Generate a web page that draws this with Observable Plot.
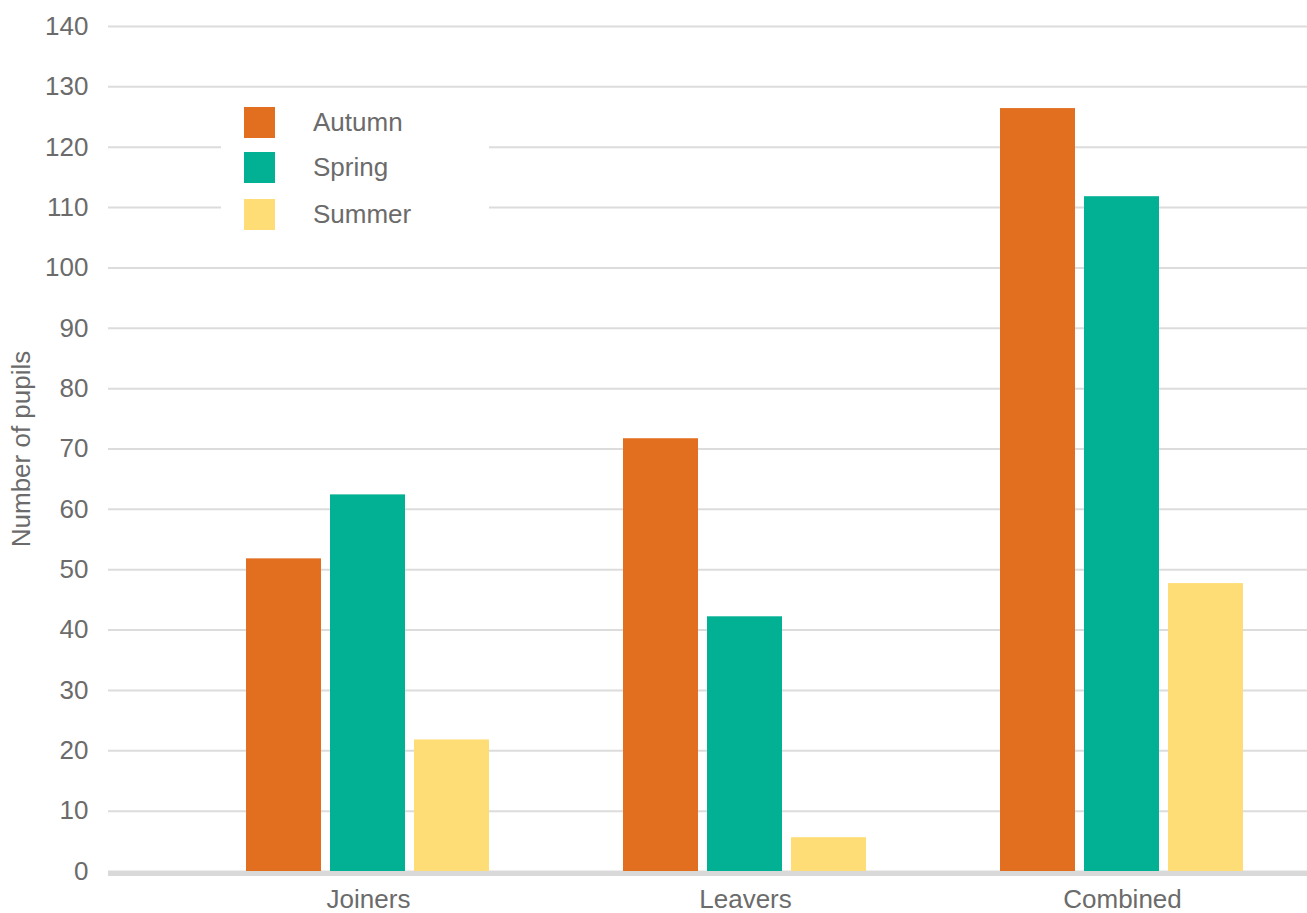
<!DOCTYPE html>
<html><head><meta charset="utf-8">
<script src="https://cdn.jsdelivr.net/npm/d3@7"></script>
<script src="https://cdn.jsdelivr.net/npm/@observablehq/plot@0.6"></script>
<style>
body{margin:0;background:#fff;font-family:"Liberation Sans",Arial,sans-serif;}
#chart{position:relative;width:1307px;height:913px;overflow:hidden;}
#chart svg{position:absolute;left:0;top:0;}
#legend{position:absolute;left:221px;top:96px;width:268px;height:150px;background:#fff;}
.item{position:absolute;left:23px;height:31px;display:flex;align-items:center;font-size:26px;color:#6b6b6b;}
.sw{width:31px;height:31px;margin-right:38px;flex:none;}
</style>
</head><body>
<div id="chart"></div>
<script>
const groups = ["Joiners", "Leavers", "Combined"];
const seasons = ["Autumn", "Spring", "Summer"];
const autumn = [51.8, 71.7, 126.4];
const spring = [62.4, 42.2, 111.8];
const summer = [21.8, 5.6, 47.7];
const colors = ["#e26e1f", "#02b193", "#fedd76"];
const yTicks = [0, 10, 20, 30, 40, 50, 60, 70, 80, 90, 100, 110, 120, 130, 140];
const yLabel = "Number of pupils";

const series = [autumn, spring, summer];
const rows = [];
groups.forEach((g, i) => seasons.forEach((s, j) => rows.push({group: g, season: s, value: series[j][i]})));

const W = 1307, H = 913;
const common = {
  width: W, height: H, marginLeft: 108, marginRight: 0, marginTop: 26, marginBottom: 42,
  style: {fontFamily: '"Liberation Sans", Arial, sans-serif', fontSize: "26px", color: "#6b6b6b", background: "transparent", overflow: "visible"}
};

const back = Plot.plot({
  ...common,
  y: {domain: [0, 140]},
  marks: [
    Plot.gridY(yTicks, {stroke: "#dcdcdc", strokeOpacity: 1, strokeWidth: 2}),
    Plot.ruleY([0], {stroke: "#d9d9d9", strokeWidth: 5, dy: 2}),
    Plot.axisY(yTicks, {tickSize: 0, tickPadding: 20, label: yLabel, labelAnchor: "center", labelOffset: 97, labelArrow: "none", fill: "#6b6b6b"})
  ]
});

const front = Plot.plot({
  ...common,
  fx: {domain: groups, paddingInner: 0.3254, paddingOuter: 0.2487, align: 0.7, label: null, tickSize: 0, tickPadding: 18},
  x: {domain: seasons, paddingInner: 0.1059, paddingOuter: 0.053, axis: null},
  y: {domain: [0, 140], axis: null},
  color: {domain: seasons, range: colors},
  marks: [
    Plot.barY(rows, {fx: "group", x: "season", y: "value", fill: "season"})
  ]
});

const chart = document.getElementById("chart");
chart.appendChild(back);
chart.appendChild(front);

const legend = document.createElement("div");
legend.id = "legend";
const tops = [11, 56, 103];
seasons.forEach((s, i) => {
  const it = document.createElement("div");
  it.className = "item";
  it.style.top = tops[i] + "px";
  const sw = document.createElement("div");
  sw.className = "sw";
  sw.style.background = colors[i];
  it.appendChild(sw);
  it.appendChild(document.createTextNode(s));
  legend.appendChild(it);
});
chart.appendChild(legend);
</script>
</body></html>
